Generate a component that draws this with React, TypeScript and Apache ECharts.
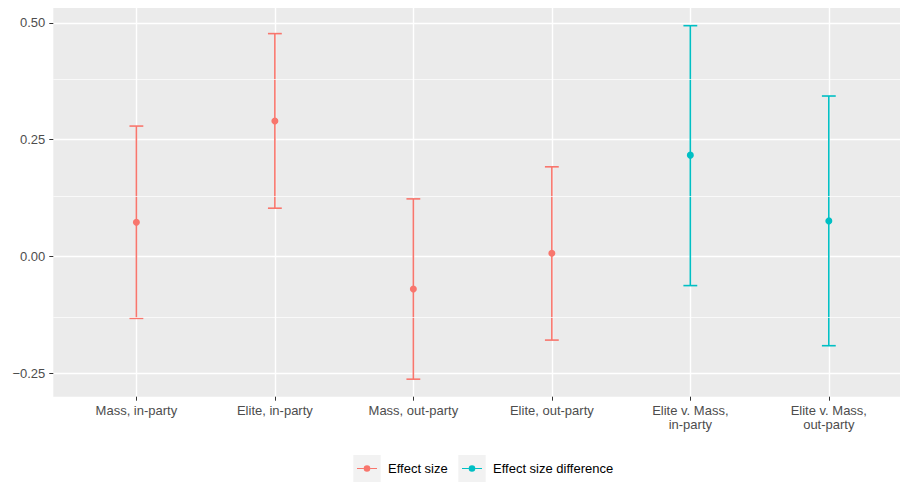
import React, { useEffect, useRef } from "react";
import * as echarts from "echarts";

const categories = [
  "Mass, in-party",
  "Elite, in-party",
  "Mass, out-party",
  "Elite, out-party",
  "Elite v. Mass,\nin-party",
  "Elite v. Mass,\nout-party",
];
// group: 0 = Effect size, 1 = Effect size difference
const groups = [0, 0, 0, 0, 1, 1];
const estimates = [0.0735, 0.2899, -0.0694, 0.0071, 0.217, 0.0763];
const lowers = [-0.1322, 0.1035, -0.2623, -0.1787, -0.0621, -0.1907];
const uppers = [0.2792, 0.477, 0.1234, 0.192, 0.494, 0.3435];
const seriesNames = ["Effect size", "Effect size difference"];
const seriesColors = ["#F8766D", "#00BFC4"];
const yTicks = [-0.25, 0, 0.25, 0.5];
const yMinorTicks = [-0.125, 0.125, 0.375];

const FONT = "'Liberation Sans', Arial, Helvetica, sans-serif";
const LEGEND_ICON =
  "path://M0,2.95 H6.7 V4.05 H0 Z M13.3,2.95 H20 V4.05 H13.3 Z M6.7,3.5 A3.3,3.3 0 1,0 13.3,3.5 A3.3,3.3 0 1,0 6.7,3.5 Z";
const legendLefts = [357, 462];

export default function App() {
  const ref = useRef<HTMLDivElement>(null);

  useEffect(() => {
    if (!ref.current) return;
    const chart = echarts.init(ref.current, null, { renderer: "svg" });

    const series: any[] = [];
    // dummy series carrying minor grid lines
    series.push({
      type: "scatter",
      name: "__grid",
      data: [],
      z: 1,
      silent: true,
      markLine: {
        silent: true,
        symbol: "none",
        animation: false,
        label: { show: false },
        lineStyle: { color: "#FFFFFF", width: 0.7, type: "solid" },
        emphasis: { disabled: true },
        data: yMinorTicks.map((v) => ({ yAxis: v })),
      },
    });

    for (let g = 0; g < 2; g++) {
      const idx = categories.map((_, i) => i).filter((i) => groups[i] === g);
      series.push({
        type: "custom",
        name: seriesNames[g],
        z: 4,
        silent: true,
        itemStyle: { color: seriesColors[g] },
        encode: { x: 0, y: [1, 2] },
        data: idx.map((i) => [i, lowers[i], uppers[i]]),
        renderItem: (params: any, api: any) => {
          const x = api.value(0);
          const lo = api.value(1);
          const hi = api.value(2);
          const pLo = api.coord([x, lo]);
          const pHi = api.coord([x, hi]);
          const half = api.coord([x + 0.05, 0])[0] - pLo[0];
          const style = { stroke: seriesColors[g], lineWidth: 1.6 };
          return {
            type: "group",
            children: [
              { type: "line", shape: { x1: pLo[0], y1: pLo[1], x2: pHi[0], y2: pHi[1] }, style },
              { type: "line", shape: { x1: pHi[0] - half, y1: pHi[1], x2: pHi[0] + half, y2: pHi[1] }, style },
              { type: "line", shape: { x1: pLo[0] - half, y1: pLo[1], x2: pLo[0] + half, y2: pLo[1] }, style },
            ],
          };
        },
      });
      series.push({
        type: "scatter",
        name: seriesNames[g],
        z: 5,
        symbol: "circle",
        symbolSize: 7,
        itemStyle: { color: seriesColors[g], opacity: 1 },
        data: idx.map((i) => [i, estimates[i]]),
      });
    }

    const option: any = {
      animation: false,
      backgroundColor: "#FFFFFF",
      textStyle: { fontFamily: FONT },
      grid: {
        left: 53.3,
        top: 8,
        width: 846.7,
        height: 388.7,
        show: true,
        backgroundColor: "#EBEBEB",
        borderWidth: 0,
      },
      xAxis: {
        type: "value",
        min: -0.6,
        max: 5.514,
        axisLine: { show: false, onZero: false },
        axisTick: {
          show: true,
          length: 4,
          lineStyle: { color: "#333333", width: 1 },
          customValues: categories.map((_, i) => i),
        },
        axisLabel: {
          show: true,
          customValues: categories.map((_, i) => i),
          formatter: (v: number) => categories[Math.round(v)] ?? "",
          color: "#4D4D4D",
          fontSize: 13,
          fontFamily: FONT,
          lineHeight: 14.6,
          margin: 6,
          align: "center",
          verticalAlign: "top",
        },
        splitLine: { show: true, lineStyle: { color: "#FFFFFF", width: 1.4 } },
      },
      yAxis: {
        type: "value",
        min: -0.2998,
        max: 0.5318,
        axisLine: { show: false, onZero: false },
        axisTick: {
          show: true,
          length: 4,
          lineStyle: { color: "#333333", width: 1 },
          customValues: yTicks,
        },
        axisLabel: {
          show: true,
          customValues: yTicks,
          formatter: (v: number) => (v < 0 ? "\u2212" + Math.abs(v).toFixed(2) : v.toFixed(2)),
          color: "#4D4D4D",
          fontSize: 13,
          fontFamily: FONT,
          margin: 8,
        },
        splitLine: { show: true, lineStyle: { color: "#FFFFFF", width: 1.4 } },
      },
      legend: seriesNames.map((n, g) => ({
        show: true,
        left: legendLefts[g],
        top: 461.5,
        padding: 0,
        orient: "horizontal",
        itemWidth: 20,
        itemHeight: 6.6,
        selectedMode: false,
        z: 5,
        textStyle: {
          color: "#000000",
          fontSize: 13,
          fontFamily: FONT,
          lineHeight: 14,
          padding: [0, 0, 0, 6],
        },
        data: [
          {
            name: n,
            icon: LEGEND_ICON,
            itemStyle: { color: seriesColors[g], borderWidth: 0 },
          },
        ],
      })),
      graphic: [
        { type: "rect", left: 353.3, top: 455, z: 0, shape: { width: 27.4, height: 27 }, style: { fill: "#F2F2F2" } },
        { type: "rect", left: 458.3, top: 455, z: 0, shape: { width: 27.4, height: 27 }, style: { fill: "#F2F2F2" } },
      ],
      series,
    };

    chart.setOption(option);
    return () => chart.dispose();
  }, []);

  return (
    <div
      ref={ref}
      style={{ position: "fixed", left: 0, top: 0, width: 900, height: 483 }}
    />
  );
}
